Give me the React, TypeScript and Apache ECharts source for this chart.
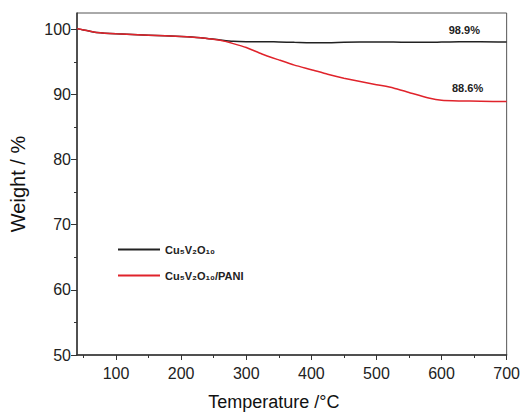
import React, { useEffect, useRef } from "react";
import * as echarts from "echarts";

const temps = [40, 50, 60, 70, 100, 150, 200, 230, 260, 280, 300, 324, 350, 374, 400, 425, 450, 500, 526, 550, 582, 600, 627, 660, 700];
const cuvoWeights = [100.1, 99.9, 99.7, 99.5, 99.3, 99.1, 98.9, 98.7, 98.35, 98.15, 98.1, 98.1, 98.05, 98.0, 97.95, 97.95, 98.0, 98.05, 98.05, 98.0, 98.0, 98.05, 98.1, 98.1, 98.05];
const paniWeights = [100.1, 99.9, 99.7, 99.5, 99.3, 99.1, 98.9, 98.7, 98.3, 97.8, 97.2, 96.2, 95.3, 94.5, 93.8, 93.1, 92.5, 91.5, 91.0, 90.3, 89.4, 89.1, 89.0, 88.95, 88.9];
const xMajorTicks = [100, 200, 300, 400, 500, 600, 700];
const xMinorTicks = [50, 150, 250, 350, 450, 550, 650];
const yMajorTicks = [50, 60, 70, 80, 90, 100];
const yMinorTicks = [55, 65, 75, 85, 95];
const seriesNames = ["Cu₅V₂O₁₀", "Cu₅V₂O₁₀/PANI"];
const residueLabels = [
  { text: "98.9%", coord: [635, 99.85] },
  { text: "88.6%", coord: [640, 90.95] },
];

const FONT = "Liberation Sans, Arial, sans-serif";

export default function App() {
  const ref = useRef<HTMLDivElement>(null);
  useEffect(() => {
    if (!ref.current) return;
    const chart = echarts.init(ref.current, null, { renderer: "svg" });
    const axisColor = "#333";
    const mk = (v: number[]) => temps.map((t, i) => [t, v[i]]);
    const markLabel = (idx: number) => ({
      silent: true,
      symbol: "circle",
      symbolSize: 0,
      label: {
        show: true,
        position: "inside",
        formatter: residueLabels[idx].text,
        color: "#222",
        fontSize: 11,
        fontWeight: "bold",
        fontFamily: FONT,
      },
      data: [{ coord: residueLabels[idx].coord }],
    });
    chart.setOption({
      animation: false,
      backgroundColor: "#fff",
      grid: {
        left: 72,
        right: 15,
        top: 13,
        bottom: 61,
        show: true,
        borderColor: "#555",
        borderWidth: 1,
      },
      legend: {
        orient: "vertical",
        left: 113,
        top: 239,
        icon: "rect",
        itemWidth: 42,
        itemHeight: 2,
        itemGap: 15,
        data: seriesNames,
        textStyle: { fontSize: 11, fontWeight: "bold", color: "#222", fontFamily: FONT },
      },
      xAxis: [
        {
          type: "value",
          min: 40,
          max: 700,
          name: "Temperature /°C",
          nameLocation: "middle",
          nameGap: 38,
          nameTextStyle: { fontSize: 18, color: "#111", fontFamily: FONT, padding: [0, 36, 0, 0] },
          axisLine: { show: true, lineStyle: { color: axisColor, width: 1.5 } },
          axisTick: { show: true, inside: false, length: 5, customValues: xMajorTicks, lineStyle: { color: axisColor } },
          axisLabel: { customValues: xMajorTicks, fontSize: 16, color: "#222", fontFamily: FONT, margin: 10 },
          splitLine: { show: false },
        },
        {
          type: "value",
          min: 40,
          max: 700,
          position: "bottom",
          axisLine: { show: false },
          axisTick: { show: true, inside: false, length: 3, customValues: xMinorTicks, lineStyle: { color: axisColor } },
          axisLabel: { show: false },
          splitLine: { show: false },
        },
      ],
      yAxis: [
        {
          type: "value",
          min: 50,
          max: 102.5,
          name: "Weight / %",
          nameLocation: "middle",
          nameGap: 49,
          nameTextStyle: { fontSize: 20, color: "#111", fontFamily: FONT },
          axisLine: { show: true, lineStyle: { color: axisColor, width: 1.5 } },
          axisTick: { show: true, inside: false, length: 6, customValues: yMajorTicks, lineStyle: { color: axisColor } },
          axisLabel: { customValues: yMajorTicks, fontSize: 16, color: "#222", fontFamily: FONT, margin: 6 },
          splitLine: { show: false },
        },
        {
          type: "value",
          min: 50,
          max: 102.5,
          position: "left",
          axisLine: { show: false },
          axisTick: { show: true, inside: false, length: 3, customValues: yMinorTicks, lineStyle: { color: axisColor } },
          axisLabel: { show: false },
          splitLine: { show: false },
        },
      ],
      series: [
        {
          name: seriesNames[0],
          type: "line",
          data: mk(cuvoWeights),
          smooth: 0.3,
          symbol: "none",
          lineStyle: { color: "#222", width: 1.5 },
          itemStyle: { color: "#222" },
          markPoint: markLabel(0),
        },
        {
          name: seriesNames[1],
          type: "line",
          data: mk(paniWeights),
          smooth: 0.2,
          symbol: "none",
          lineStyle: { color: "#e0232b", width: 1.5 },
          itemStyle: { color: "#e0232b" },
          markPoint: markLabel(1),
        },
      ],
    });
    return () => chart.dispose();
  }, []);
  return <div ref={ref} style={{ width: 523, height: 416, position: "absolute", left: 0, top: 0 }} />;
}
